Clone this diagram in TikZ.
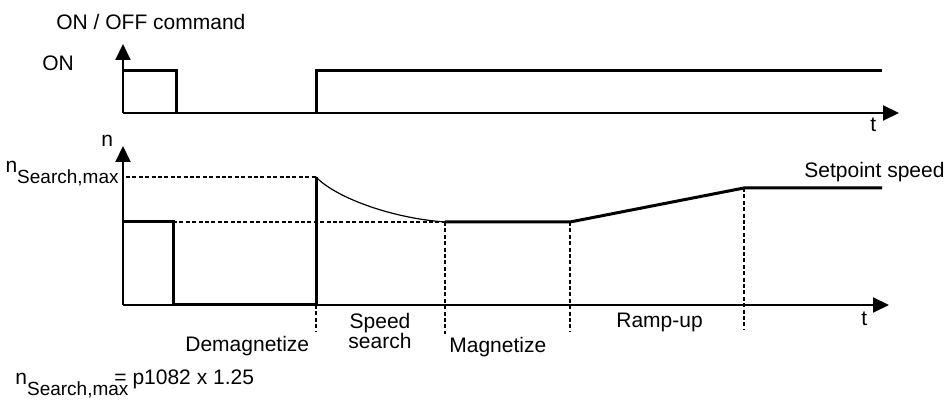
\documentclass[tikz,border=0pt]{standalone}
\usepackage{fontspec}
\setmainfont{Liberation Sans}
\usetikzlibrary{arrows.meta}

\newcommand{\nsub}{n\raisebox{-5.5pt}{\fontsize{9.5}{11}\selectfont Search,max}}

\begin{document}
\begin{tikzpicture}[x=0.5pt, y=-0.5pt, >={Triangle[length=8pt,width=7.5pt]}, every node/.style={inner sep=0pt, font=\fontsize{10.5}{11}\selectfont}]

% Define styles
\tikzstyle{axis} = [line width=1pt, ->]
\tikzstyle{signal} = [line width=1.5pt, line join=miter]
\tikzstyle{guide} = [line width=0.65pt, dash pattern=on 2pt off 1.2pt]
\tikzstyle{lbl} = [anchor=base west]

\useasboundingbox (0,0) rectangle (948,400);

% ON / OFF command
\coordinate (o1) at (123,113);
\draw[axis] (o1) -- (123,44);
\draw[axis] (o1) -- (899,113);
\draw[signal] (123,71) -- (176,71) -- (176,113);
\draw[signal] (316,113) -- (316,71) -- (882,71);

\node[lbl] (cmd) at (56,29.5) {ON / OFF command};
\node[lbl] (on) at (42,70.5) {ON};
\node[lbl] (t1) at (870,132) {t};

% Speed
\coordinate (o2) at (123,305);
\draw[axis] (o2) -- (123,146);
\draw[axis] (o2) -- (889,305);
\draw[guide] (126,177) -- (316,177);
\draw[guide] (173,222) -- (445,222);
\draw[signal] (123,222) -- (173,222) -- (173,305) -- (316,305) -- (316,177);
\draw[line width=0.6pt] (316,177) .. controls (335,197) and (390,218) .. (445,222);
\draw[signal] (445,222) -- (570,222) -- (744,188) -- (882,188);

\draw[guide] (316,305) -- (316,332);
\draw[guide] (445,222) -- (445,334);
\draw[guide] (570,222) -- (570,332);
\draw[guide] (744,188) -- (744,330);

\node[lbl] (n) at (101,147) {n};
\node[anchor=base east] (nmax) at (119,173) {\nsub};
\node[lbl] (setp) at (804,178) {Setpoint speed};
\node[lbl] (t2) at (861,326) {t};

% Phases
\node[lbl] (demag) at (185,352) {Demagnetize};
\node[anchor=north, align=center] (search) at (380,313) {Speed\\[-1pt]search};
\node[lbl] (mag) at (449,353) {Magnetize};
\node[lbl] (ramp) at (616,328) {Ramp-up};

% Note
\node[lbl] (note) at (15,385) {\nsub\hspace{-7pt}= p1082 x 1.25};

\end{tikzpicture}
\end{document}
